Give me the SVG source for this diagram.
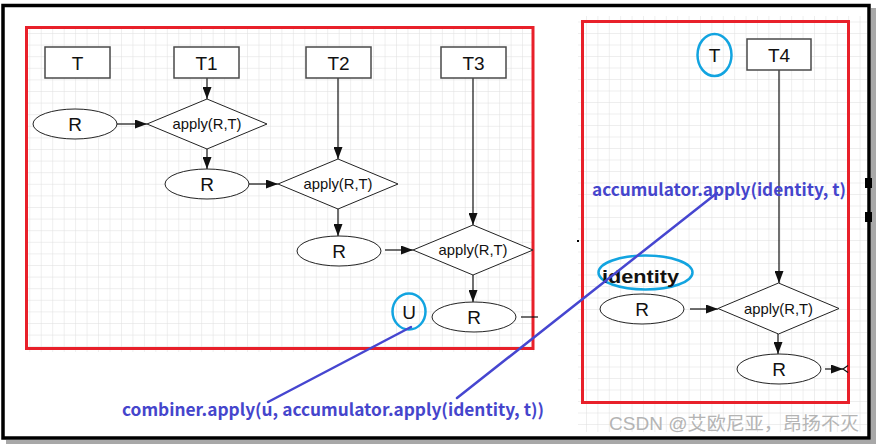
<svg xmlns="http://www.w3.org/2000/svg" width="876" height="444" viewBox="0 0 876 444">
<style>
.box{fill:#fff;stroke:#4a4a4a;stroke-width:1.5}
.ell{fill:#fff;stroke:#222;stroke-width:1}
.dia{fill:#fff;stroke:#222;stroke-width:1}
.lbl{font-family:"Liberation Sans",Arial,sans-serif;font-size:19px;fill:#111;text-anchor:middle}
.dlbl{font-family:"Liberation Sans",Arial,sans-serif;font-size:14.8px;fill:#111;text-anchor:middle}
.conn{stroke:#111;stroke-width:1.2;fill:none}
.arr{marker-end:url(#ah)}
.red{fill:none;stroke:#e8202a;stroke-width:3}
.cyan{fill:none;stroke:#12a4e0;stroke-width:2.5}
.blue{stroke:#4646d0;stroke-width:2.5;fill:none;stroke-linecap:round}
.btxt{font-family:"Noto Sans CJK SC","Liberation Sans",sans-serif;font-weight:bold;font-size:17px;fill:#4545cc}
</style>
<defs>
<pattern id="gridL" patternUnits="userSpaceOnUse" x="29.3" y="33" width="11.46" height="11.6">
<path d="M0,0 V11.6 M0,0 H11.46" stroke="#dedede" stroke-width="1" fill="none"/>
</pattern>
<pattern id="gridR" patternUnits="userSpaceOnUse" x="586" y="33" width="11.4" height="11.5">
<path d="M0,0 V11.5 M0,0 H11.4" stroke="#dedede" stroke-width="1" fill="none"/>
</pattern>
<marker id="ah" markerUnits="userSpaceOnUse" markerWidth="12" markerHeight="9" refX="12" refY="4.5" orient="auto">
<path d="M0,0 L12,4.5 L0,9 Z" fill="#111"/>
</marker>
</defs>

<rect x="0" y="0" width="876" height="444" fill="#fff"/>
<!-- grids -->
<rect x="27" y="28" width="507" height="324" fill="url(#gridL)"/>
<rect x="578" y="16" width="289" height="416" fill="url(#gridR)"/>

<!-- frame -->
<g id="frame">
<rect x="871" y="8" width="5" height="436" fill="#a8a8a8"/>
<rect x="6" y="440" width="870" height="4" fill="#a8a8a8"/>
<rect x="3" y="5.5" width="866" height="432.5" fill="none" stroke="#000" stroke-width="3.5"/>
<rect x="865" y="178" width="7" height="10" fill="#000"/>
<rect x="865" y="212" width="7" height="10" fill="#000"/>
<rect x="577" y="240" width="2" height="2" fill="#000"/>
</g>

<!-- red panels -->
<rect class="red" x="26.5" y="27.5" width="506.5" height="321"/>
<rect class="red" x="582.5" y="21.5" width="266" height="381"/>

<!-- connectors -->
<g id="connectors">
<path class="conn arr" d="M117,124 H147"/>
<path class="conn arr" d="M207,78 V99"/>
<path class="conn arr" d="M207,149 V169"/>
<path class="conn arr" d="M249,184 H278"/>
<path class="conn arr" d="M338,78 V159"/>
<path class="conn arr" d="M338,209 V236"/>
<path class="conn arr" d="M385,250 H413"/>
<path class="conn arr" d="M473,78 V225"/>
<path class="conn arr" d="M473,275 V302"/>
<path class="conn" d="M521,317 H538"/>
<path class="conn arr" d="M779,70 V283"/>
<path class="conn arr" d="M690,309 H718"/>
<path class="conn arr" d="M778,334 V354"/>
<path class="conn arr" d="M825,369 H843"/>
<path class="conn" d="M848,365.5 L843,369 L848,372.5"/>
</g>

<!-- boxes -->
<g id="boxT"><rect class="box" x="45" y="47" width="65" height="31"/><text class="lbl" x="77.5" y="70">T</text></g>
<g id="boxT1"><rect class="box" x="174" y="47" width="65" height="31"/><text class="lbl" x="206.5" y="70">T1</text></g>
<g id="boxT2"><rect class="box" x="306" y="47" width="65" height="31"/><text class="lbl" x="338.5" y="70">T2</text></g>
<g id="boxT3"><rect class="box" x="441" y="47" width="65" height="31"/><text class="lbl" x="473.5" y="70">T3</text></g>
<g id="boxT4"><rect class="box" x="747" y="39" width="64" height="31"/><text class="lbl" x="779" y="62">T4</text></g>

<!-- diamonds -->
<g id="apply1"><polygon class="dia" points="147,124 207,99 267,124 207,149"/><text class="dlbl" x="207" y="129">apply(R,T)</text></g>
<g id="apply2"><polygon class="dia" points="278,184 338,159 398,184 338,209"/><text class="dlbl" x="338" y="189">apply(R,T)</text></g>
<g id="apply3"><polygon class="dia" points="413,250 473,225 533,250 473,275"/><text class="dlbl" x="473" y="255">apply(R,T)</text></g>
<g id="apply4"><polygon class="dia" points="718,308.5 778.5,283 839,308.5 778.5,334"/><text class="dlbl" x="778.5" y="314">apply(R,T)</text></g>

<!-- ellipses -->
<g id="R1"><ellipse class="ell" cx="75" cy="124" rx="42" ry="15"/><text class="lbl" x="75" y="131">R</text></g>
<g id="R2"><ellipse class="ell" cx="207" cy="184" rx="42" ry="15"/><text class="lbl" x="207" y="191">R</text></g>
<g id="R3"><ellipse class="ell" cx="339" cy="251" rx="42" ry="15"/><text class="lbl" x="339" y="258">R</text></g>
<g id="R4"><ellipse class="ell" cx="474" cy="317" rx="42" ry="15"/><text class="lbl" x="474" y="324">R</text></g>
<g id="R5"><ellipse class="ell" cx="642" cy="309" rx="42" ry="15"/><text class="lbl" x="642" y="316">R</text></g>
<g id="R6"><ellipse class="ell" cx="779" cy="369" rx="42" ry="15"/><text class="lbl" x="779" y="376">R</text></g>

<!-- circled marks -->
<g id="markU"><ellipse class="cyan" cx="409" cy="311.5" rx="16.5" ry="18"/><text class="lbl" x="409" y="318.5">U</text></g>
<g id="markT"><ellipse class="cyan" cx="714.5" cy="55" rx="17" ry="21"/><text class="lbl" x="714.5" y="62">T</text></g>
<g id="markIdentity"><ellipse class="cyan" cx="645.5" cy="272.5" rx="47" ry="17"/><text x="602" y="283" font-family="'Liberation Sans',Arial,sans-serif" font-weight="bold" font-size="18" fill="#111" textLength="77" lengthAdjust="spacingAndGlyphs">identity</text></g>

<!-- blue annotations -->
<g id="annotations">
<text class="btxt" x="592" y="196" textLength="254" lengthAdjust="spacingAndGlyphs">accumulator.apply(identity, t)</text>
<text class="btxt" x="122" y="416" textLength="422" lengthAdjust="spacingAndGlyphs">combiner.apply(u, accumulator.apply(identity, t))</text>
<path class="blue" d="M411,327 L268,402"/>
<path class="blue" d="M717,193 L457,398"/>
</g>

<text x="609" y="430" font-family="'Liberation Sans','Noto Sans CJK SC',sans-serif" font-size="18" fill="#b4b4b4" textLength="250" lengthAdjust="spacingAndGlyphs">CSDN @艾欧尼亚，昂扬不灭</text>
</svg>
